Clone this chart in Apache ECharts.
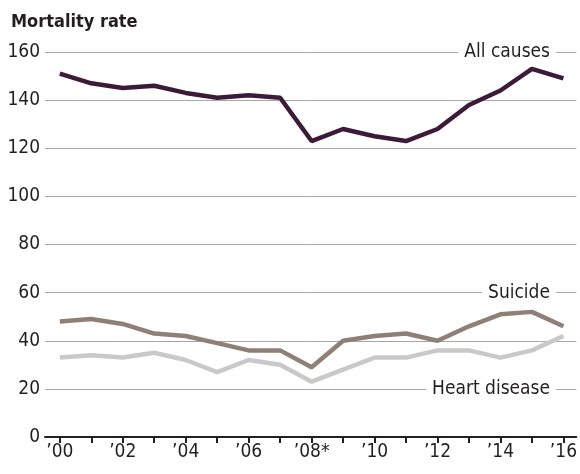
<!DOCTYPE html>
<html>
<head>
<meta charset="utf-8">
<script src="https://cdn.jsdelivr.net/npm/echarts@6/dist/echarts.min.js"></script>
<style>
  html, body { margin: 0; padding: 0; background: #fff; }
  #chart { width: 580px; height: 474px; }
</style>
</head>
<body>
<div id="chart"></div>
<script>
var years = [2000, 2001, 2002, 2003, 2004, 2005, 2006, 2007, 2008, 2009, 2010, 2011, 2012, 2013, 2014, 2015, 2016];
var labelYears = [2000, 2002, 2004, 2006, 2008, 2010, 2012, 2014, 2016];
var allCauses = [151, 147, 145, 146, 143, 141, 142, 141, 123, 128, 125, 123, 128, 138, 144, 153, 149];
var suicide = [48, 49, 47, 43, 42, 39, 36, 36, 29, 40, 42, 43, 40, 46, 51, 52, 46];
var heartDisease = [33, 34, 33, 35, 32, 27, 32, 30, 23, 28, 33, 33, 36, 36, 33, 36, 42];

var FONT = '"Liberation Sans Narrow", "DejaVu Sans Condensed", sans-serif';
var TEXT = '#231f20';

function pairs(vals) {
    return years.map(function (y, i) { return [y, vals[i]]; });
}

// name tag sitting on a gridline, white box hides the line behind it
function tag(text, yVal) {
    return {
        symbol: 'rect',
        symbolSize: 1,
        silent: true,
        itemStyle: { color: 'rgba(0,0,0,0)' },
        data: [{
            coord: [2015.78, yVal],
            label: {
                show: true,
                position: 'left',
                distance: 0,
                formatter: text,
                color: TEXT,
                fontFamily: FONT,
                fontSize: 19,
                backgroundColor: '#fff',
                padding: [1, 6]
            }
        }]
    };
}

var chart = echarts.init(document.getElementById('chart'));

chart.setOption({
    animation: false,
    title: {
        text: 'Mortality rate',
        left: 6,
        top: 8,
        textStyle: { fontFamily: FONT, fontSize: 18, fontWeight: 'bold', color: TEXT }
    },
    grid: { left: 45, right: 0, top: 52, bottom: 37 },
    xAxis: {
        type: 'value',
        min: 1999.53,
        max: 2016.41,
        splitLine: { show: false },
        axisLine: { show: true, lineStyle: { color: TEXT, width: 2 } },
        axisTick: {
            show: true,
            customValues: years,
            length: 6,
            lineStyle: { color: TEXT, width: 2 }
        },
        axisLabel: {
            customValues: labelYears,
            margin: 6,
            color: TEXT,
            fontFamily: FONT,
            fontSize: 19,
            formatter: function (v) {
                var s = '\u2019' + String(v).slice(2);
                return v === 2008 ? s + '*' : s;
            }
        }
    },
    yAxis: {
        type: 'value',
        min: 0,
        max: 160,
        interval: 20,
        axisLine: { show: false },
        axisTick: { show: false },
        splitLine: { lineStyle: { color: '#a7a7a7', width: 1 } },
        axisLabel: { margin: 5, color: TEXT, fontFamily: FONT, fontSize: 19 }
    },
    series: [
        {
            name: 'Heart disease',
            type: 'line',
            data: pairs(heartDisease),
            symbol: 'none',
            lineStyle: { color: '#c9c9cc', width: 4.5 },
            markPoint: tag('Heart disease', 20)
        },
        {
            name: 'Suicide',
            type: 'line',
            data: pairs(suicide),
            symbol: 'none',
            lineStyle: { color: '#8e7f77', width: 4.5 },
            markPoint: tag('Suicide', 60)
        },
        {
            name: 'All causes',
            type: 'line',
            data: pairs(allCauses),
            symbol: 'none',
            lineStyle: { color: '#3b1b38', width: 4.5 },
            markPoint: tag('All causes', 160)
        }
    ]
});
</script>
</body>
</html>
